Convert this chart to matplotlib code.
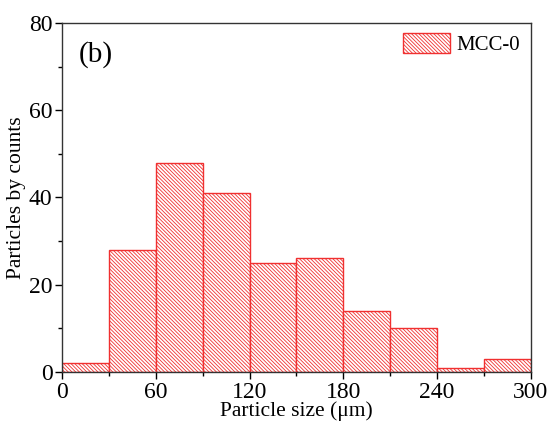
import matplotlib
matplotlib.use("Agg")
import matplotlib.pyplot as plt
from matplotlib.ticker import MultipleLocator

# histogram data
bin_edges = [0, 30, 60, 90, 120, 150, 180, 210, 240, 270, 300]
counts = [2, 28, 48, 41, 25, 26, 14, 10, 1, 3]
series_label = "MCC-0"

plt.rcParams['font.family'] = ['Liberation Serif', 'DejaVu Serif']
plt.rcParams['hatch.color'] = '#f26060'
plt.rcParams['hatch.linewidth'] = 0.6

fig, ax = plt.subplots(figsize=(5.5, 4.25), dpi=100)
fig.subplots_adjust(left=0.113, right=0.965, top=0.946, bottom=0.125)

lefts = bin_edges[:-1]
widths = [b - a for a, b in zip(bin_edges[:-1], bin_edges[1:])]
ax.bar(lefts, counts, width=widths, align='edge', facecolor='white',
       edgecolor='#f03030', linewidth=1.0, hatch='\\' * 9, label=series_label)

ax.set_xlim(0, 300)
ax.set_ylim(0, 80)
ax.xaxis.set_major_locator(MultipleLocator(60))
ax.xaxis.set_minor_locator(MultipleLocator(30))
ax.yaxis.set_major_locator(MultipleLocator(20))
ax.yaxis.set_minor_locator(MultipleLocator(10))
ax.tick_params(which='both', direction='out', top=False, right=False, labelsize=17, pad=2)
ax.tick_params(which='major', length=5, width=1)
ax.tick_params(which='minor', length=3, width=1)
for s in ax.spines.values():
    s.set_linewidth(1.0)
    s.set_color('#333333')

ax.set_xlabel('Particle size (μm)', fontsize=15.5, labelpad=-1)
ax.set_ylabel('Particles by counts', fontsize=15.5, labelpad=2)
ax.text(0.035, 0.91, '(b)', transform=ax.transAxes, fontsize=21, va='center')

ax.legend(loc='upper right', frameon=False, fontsize=15, handlelength=2.3,
          handleheight=1.1, borderaxespad=0.0, borderpad=0.5, handletextpad=0.3)

plt.savefig('out.png', dpi=100)
